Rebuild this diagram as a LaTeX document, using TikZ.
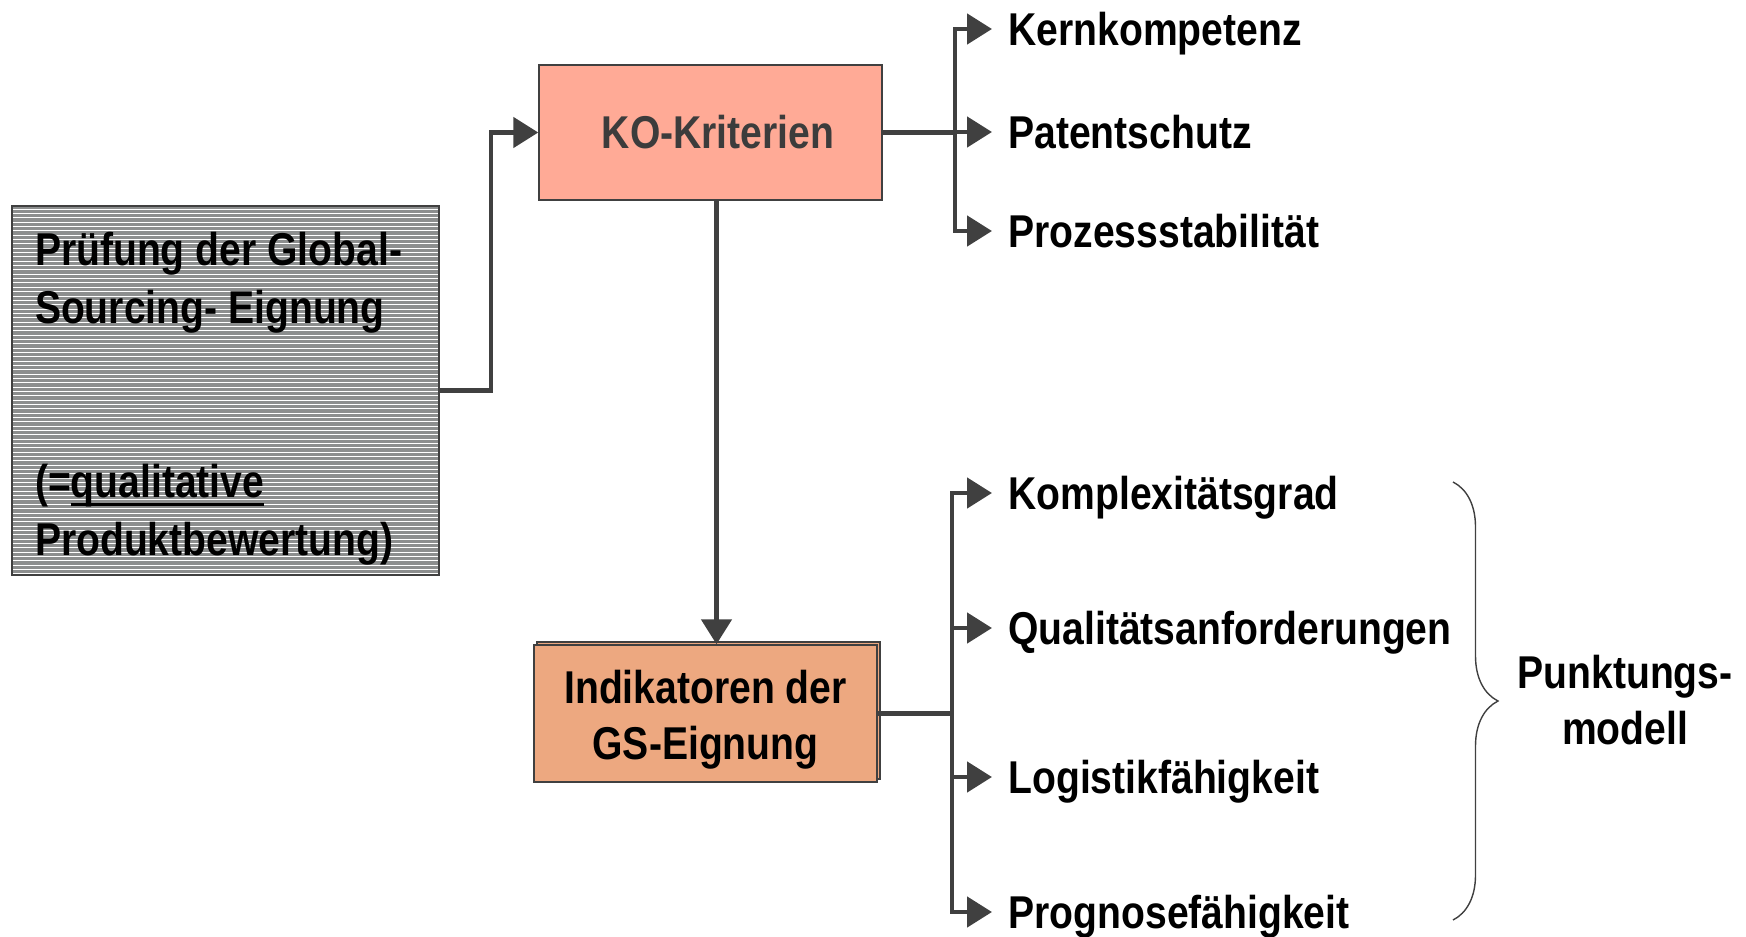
\documentclass[tikz,border=0pt]{standalone}
\usepackage{fontspec}
\setmainfont{Liberation Sans}[FakeStretch=0.85]
\usetikzlibrary{arrows.meta, positioning, shadows, decorations.pathreplacing}

\definecolor{linegray}{HTML}{404040}
\definecolor{kofill}{HTML}{FFAA96}
\definecolor{indfill}{HTML}{EDA880}
\definecolor{stripegray}{HTML}{8C8E8E}
\definecolor{kotext}{HTML}{3C3C3C}

\newcommand{\diafont}{\bfseries\fontsize{23}{28}\selectfont}
\newcommand{\ulbar}[1]{\setbox0\hbox{#1}\rlap{\rule[-4pt]{\wd0}{1.4pt}}\box0}

\tikzset{
	conn/.style={draw=linegray, line width=2.4pt},
	arr/.style={conn, -{Triangle[length=12.5pt, width=15pt]}},
	box/.style={draw=linegray, line width=0.7pt, font=\diafont, align=center, inner sep=0pt},
	item/.style={anchor=west, inner xsep=8pt, inner ysep=0pt, text height=16.5pt, text depth=0pt, font=\diafont},
}

\begin{document}
\begin{tikzpicture}[x=0.5pt, y=-0.5pt]
			\useasboundingbox (0,0) rectangle (1746,937);

			% Draw the boxes
			\node[box, fill=stripegray, line width=1pt, align=flush left, text width=190.5pt,
				font=\bfseries\fontsize{23}{29}\selectfont,
				minimum width=213.5pt, minimum height=184.5pt,
				path picture={
					\foreach \k in {0,...,84}
						\draw[white, line width=0.5pt]
							([yshift=-\k*2.17pt-1.6pt]path picture bounding box.north west) --
							([yshift=-\k*2.17pt-1.6pt]path picture bounding box.north east);
				}] (pruef) at (225.5,390.5)
				{\rule{0pt}{25pt}Prüfung der Global-\\Sourcing- Eignung\\~\\~\\(=\ulbar{qualitative}\\Produktbewertung)};

			\node[box, fill=kofill, text=kotext, minimum width=171.5pt, minimum height=67.5pt] (ko) at (710.5,132.5) {\hspace*{7.5pt}KO-Kriterien};

			\node[box, fill=indfill, minimum width=171.5pt, minimum height=68.5pt,
				copy shadow={shadow xshift=1.5pt, shadow yshift=1.5pt}] (ind) at (705.5,713.5) {\rule{0pt}{23pt}Indikatoren der\\GS-Eignung};

			% Draw the criteria
			\node[item] (kern) at (992,29) {Kernkompetenz};
			\node[item] (patent) at (992,132) {Patentschutz};
			\node[item] (prozess) at (992,231) {Prozessstabilität};

			\node[item] (komplex) at (992,493) {Komplexitätsgrad};
			\node[item] (quali) at (992,628) {Qualitätsanforderungen};
			\node[item] (logistik) at (992,777) {Logistikfähigkeit};
			\node[item] (prognose) at (992,912) {Prognosefähigkeit};

			\node[font=\diafont, align=center, inner sep=0pt] (punkt) at (1625,700) {Punktungs-\\modell};

			% Draw the connectors
			\coordinate (kojoin) at (955,132.5);
			\coordinate (indjoin) at (952,713.5);

			\draw[arr] (pruef.east) -- ++(51,0) |- (ko.west);
			\draw[arr] ([xshift=3pt]ko.south) -- ([xshift=3pt]ko.south |- ind.north);

			\draw[conn] (ko.east) -- (kojoin);
			\draw[arr] (kojoin) |- (kern.west);
			\draw[arr] (kojoin) |- (patent.west);
			\draw[arr] (kojoin) |- (prozess.west);

			\draw[conn] (ind.east) -- (indjoin);
			\draw[arr] (indjoin) |- (komplex.west);
			\draw[arr] (indjoin) |- (quali.west);
			\draw[arr] (indjoin) |- (logistik.west);
			\draw[arr] (indjoin) |- (prognose.west);

			% Draw the brace
			\coordinate (bracetop) at (1453,482);
			\coordinate (bracebot) at (1453,920);
			\draw[linegray, line width=0.7pt, decorate, decoration={brace, amplitude=22.5pt}] (bracetop) -- (bracebot);

		\end{tikzpicture}
\end{document}
